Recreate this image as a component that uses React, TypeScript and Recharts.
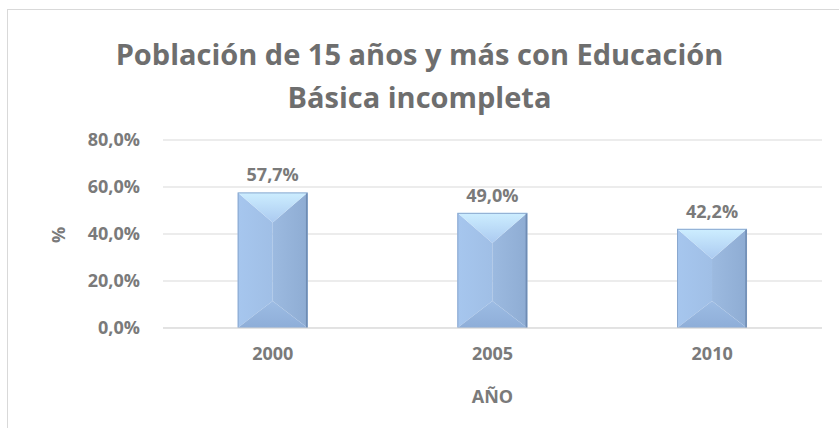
import React from "react";
import { BarChart, Bar, XAxis, YAxis, CartesianGrid, LabelList, Label } from "recharts";

const years = ["2000", "2005", "2010"];
const values = [57.7, 49.0, 42.2];
const yTicks = [0, 20, 40, 60, 80];
const titleLines = ["Población de 15 años y más con Educación", "Básica incompleta"];

const data = years.map((y, i) => ({ year: y, value: values[i] }));

const FONT = "'Open Sans', 'Liberation Sans', sans-serif";
const TEXT = "#7a7a7a";
const FS = 18;

const fmt = (v: number) => v.toFixed(1).replace(".", ",") + "%";

const BevelBar = (props: any) => {
  const { x, y, width, height } = props;
  if (!height || height <= 0) return null;
  const cx = x + width / 2;
  const d = Math.min(width * 0.43, height / 2);
  const yt = y + d;
  const yb = y + height - d * 0.9;
  const r = x + width;
  const b = y + height;
  return (
    <g>
      <defs>
        <linearGradient id="bvTop" x1="0" y1="0" x2="0" y2="1">
          <stop offset="0%" stopColor="#cdeeff" />
          <stop offset="100%" stopColor="#abcaf0" />
        </linearGradient>
        <linearGradient id="bvLeft" x1="0" y1="0" x2="1" y2="0">
          <stop offset="0%" stopColor="#a6c6ee" />
          <stop offset="100%" stopColor="#a0bfe6" />
        </linearGradient>
        <linearGradient id="bvRight" x1="0" y1="0" x2="1" y2="0">
          <stop offset="0%" stopColor="#9cbae0" />
          <stop offset="100%" stopColor="#8eacd3" />
        </linearGradient>
        <linearGradient id="bvBot" x1="0" y1="0" x2="0" y2="1">
          <stop offset="0%" stopColor="#9dbce4" />
          <stop offset="100%" stopColor="#8eaed8" />
        </linearGradient>
      </defs>
      <polygon points={`${x},${y} ${cx},${yt} ${cx},${yb} ${x},${b}`} fill="url(#bvLeft)" />
      <polygon points={`${r},${y} ${cx},${yt} ${cx},${yb} ${r},${b}`} fill="url(#bvRight)" />
      <polygon points={`${x},${y} ${r},${y} ${cx},${yt}`} fill="url(#bvTop)" />
      <polygon points={`${x},${b} ${r},${b} ${cx},${yb}`} fill="url(#bvBot)" />
      <rect x={x + 0.5} y={y + 0.5} width={width - 1} height={height - 1} fill="none" stroke="#8aa8cf" strokeWidth={1} />
      <line x1={r - 1} y1={y + 1} x2={r - 1} y2={b} stroke="#6f8cb3" strokeWidth={1.5} />
    </g>
  );
};

const YLabel = () => {
  return (
    <text
      x={58}
      y={235}
      transform="rotate(-90, 58, 235)"
      textAnchor="middle"
      dominantBaseline="central"
      fill={TEXT}
      fontFamily={FONT}
      fontWeight="bold"
      fontSize={FS}
    >
      %
    </text>
  );
};

export default function App() {
  return (
    <div style={{ position: "absolute", left: 0, top: 0, width: 839, height: 428, overflow: "hidden", background: "#fff" }}>
      <div
        style={{
          position: "absolute",
          left: 7,
          top: 9,
          width: 860,
          height: 460,
          border: "1px solid #d9d9d9",
          boxSizing: "border-box",
        }}
      />
      <div
        style={{
          position: "absolute",
          left: 0,
          top: 32,
          width: 839,
          textAlign: "center",
          fontFamily: FONT,
          fontWeight: 700,
          fontSize: 29,
          lineHeight: "43px",
          color: "#6e6e6e",
        }}
      >
        {titleLines.map((t) => (
          <div key={t}>{t}</div>
        ))}
      </div>
      <div style={{ position: "absolute", left: 0, top: 0 }}>
        <BarChart
          width={839}
          height={428}
          data={data}
          margin={{ top: 140, right: 17, bottom: 0, left: 0 }}
          barCategoryGap="34%"
        >
          <CartesianGrid vertical={false} stroke="#d9d9d9" />
          <XAxis
            dataKey="year"
            height={100}
            axisLine={{ stroke: "#d9d9d9" }}
            tickLine={false}
            tickSize={0}
            tickMargin={19}
            tick={{ fill: TEXT, fontFamily: FONT, fontWeight: "bold", fontSize: FS }}
          >
            <Label
              value="AÑO"
              position="insideBottom"
              offset={25}
              fill={TEXT}
              fontFamily={FONT}
              fontWeight="bold"
              fontSize={FS}
            />
          </XAxis>
          <YAxis
            width={163}
            domain={[0, 80]}
            ticks={yTicks}
            axisLine={false}
            tickLine={false}
            tickSize={0}
            tickMargin={23}
            tickFormatter={fmt}
            tick={{ fill: TEXT, fontFamily: FONT, fontWeight: "bold", fontSize: FS }}
          >
            <Label content={<YLabel />} />
          </YAxis>
          <Bar dataKey="value" shape={<BevelBar />} isAnimationActive={false}>
            <LabelList
              dataKey="value"
              position="top"
              offset={11}
              formatter={(v: any) => fmt(Number(v))}
              fill={TEXT}
              fontFamily={FONT}
              fontWeight="bold"
              fontSize={FS}
            />
          </Bar>
        </BarChart>
      </div>
    </div>
  );
}
